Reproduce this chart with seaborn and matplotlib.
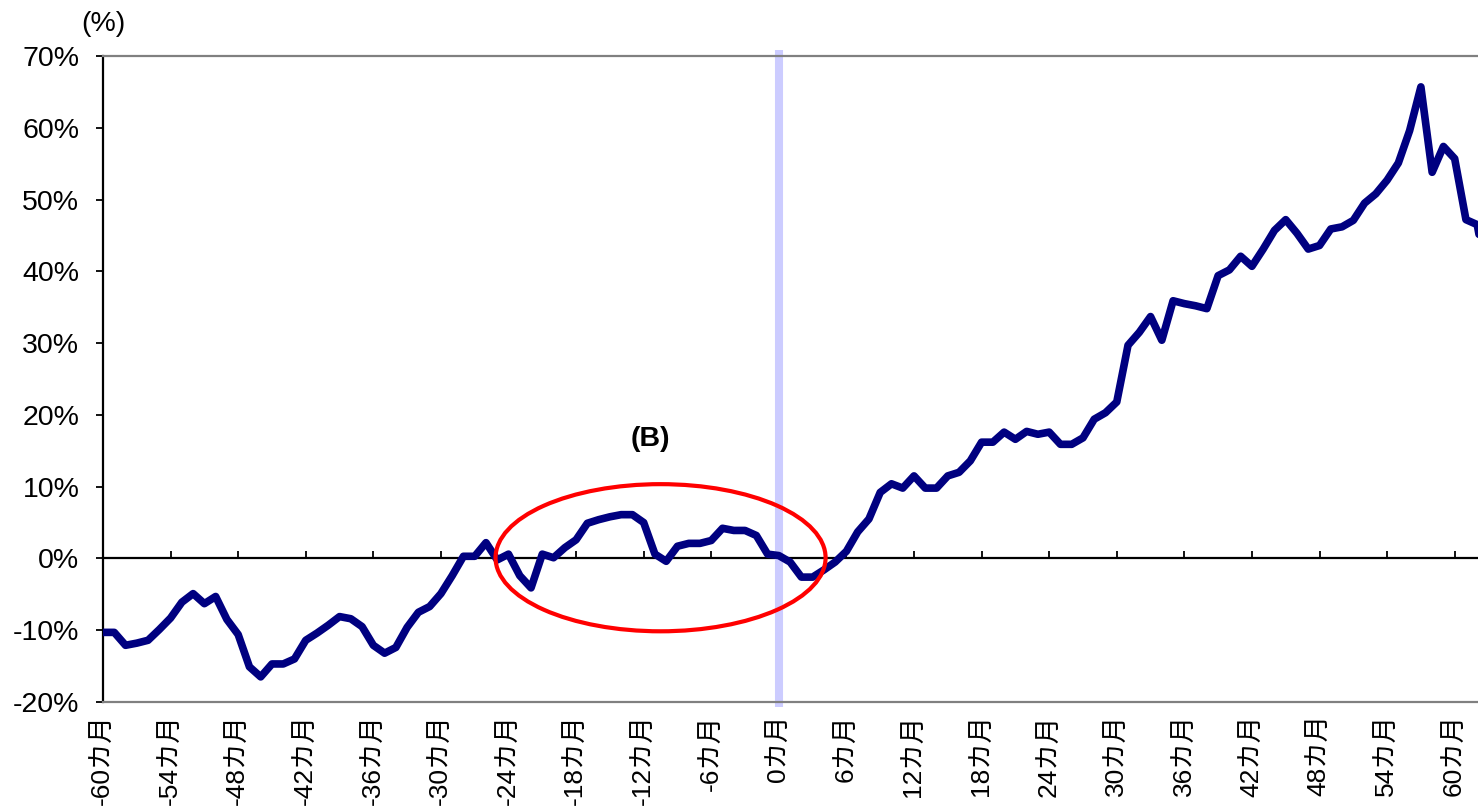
import numpy as np
import pandas as pd
import matplotlib
matplotlib.use("Agg")
import matplotlib.pyplot as plt
from matplotlib.patches import Ellipse
import seaborn as sns

# ── data ──────────────────────────────────────────────────────────────────────
months = list(range(-60, 64))
values = [
    -10.3, -10.3, -12.1, -11.8, -11.4, -9.9, -8.3, -6.1, -4.9, -6.3,      # -60..-51
    -5.3, -8.5, -10.6, -15.1, -16.5, -14.7, -14.7, -14.0, -11.4, -10.4,   # -50..-41
    -9.3, -8.1, -8.4, -9.5, -12.1, -13.2, -12.4, -9.6, -7.5, -6.7,        # -40..-31
    -4.9, -2.4, 0.3, 0.3, 2.2, -0.2, 0.6, -2.4, -4.1, 0.6,                # -30..-21
    0.1, 1.5, 2.6, 4.9, 5.4, 5.8, 6.1, 6.1, 5.0, 0.6,                     # -20..-11
    -0.4, 1.7, 2.1, 2.1, 2.5, 4.2, 3.9, 3.9, 3.2, 0.6,                    # -10..-1
    0.4, -0.5, -2.6, -2.6, -1.6, -0.5, 1.0, 3.7, 5.5, 9.2,                # 0..9
    10.4, 9.8, 11.5, 9.8, 9.8, 11.5, 12.0, 13.6, 16.2, 16.2,              # 10..19
    17.6, 16.6, 17.7, 17.3, 17.6, 15.9, 15.9, 16.8, 19.4, 20.3,           # 20..29
    21.8, 29.7, 31.5, 33.7, 30.4, 35.9, 35.5, 35.2, 34.8, 39.4,           # 30..39
    40.2, 42.1, 40.7, 43.1, 45.7, 47.2, 45.3, 43.1, 43.6, 45.9,           # 40..49
    46.2, 47.1, 49.5, 50.8, 52.7, 55.1, 59.6, 65.7, 53.8, 57.4,           # 50..59
    55.7, 47.2, 46.5, 38.0,                                               # 60..63
]
x_ticks = list(range(-60, 61, 6))
x_labels = [f"{m}カ月" for m in x_ticks]
y_ticks = list(range(-20, 71, 10))
y_labels = [f"{v}%" for v in y_ticks]

# highlighted region (B)
ELL_CENTER = (-10.5, 0.1)
ELL_WIDTH = 29.3
ELL_HEIGHT = 20.5
B_LABEL_POS = (-11.4, 16.6)

df = pd.DataFrame({"month": months, "value": values})

# ── style ─────────────────────────────────────────────────────────────────────
sns.set_theme(style="white")
plt.rcParams["font.family"] = ["Liberation Sans", "Noto Sans CJK JP", "DejaVu Sans"]
plt.rcParams["text.color"] = "black"
plt.rcParams["xtick.color"] = "black"
plt.rcParams["ytick.color"] = "black"
FS = 20.5
FS_X = 19

fig = plt.figure(figsize=(14.78, 8.10), dpi=100)
# axes runs past the right edge of the figure (chart is cropped there)
ax = fig.add_axes([103 / 1478, 108 / 810, 1408 / 1478, 646 / 810])
ax.set_xlim(-60, 65)
ax.set_ylim(-20, 70)

# month-0 marker
ax.axvline(0, color="#CCCCFF", linewidth=5.8, ymin=-0.007, ymax=1.009,
           clip_on=False, zorder=1, solid_capstyle="butt")

sns.lineplot(data=df, x="month", y="value", ax=ax, color="#000080",
             linewidth=5.5, zorder=4)

ax.add_patch(Ellipse(ELL_CENTER, ELL_WIDTH, ELL_HEIGHT, fill=False,
                     edgecolor="#FF0000", linewidth=3, zorder=5))
ax.text(*B_LABEL_POS, "(B)", fontsize=FS, fontweight="bold",
        ha="center", va="center", zorder=6)

# spines
for side in ["top", "bottom"]:
    ax.spines[side].set_color("#808080")
    ax.spines[side].set_linewidth(1.6)
ax.spines["left"].set_color("black")
ax.spines["left"].set_linewidth(1.6)
ax.spines["right"].set_visible(False)

ax.set_yticks(y_ticks)
ax.set_yticklabels(y_labels, fontsize=FS)
ax.tick_params(axis="y", direction="out", length=5, width=1.3, colors="black",
               left=True, pad=12)

ax.set_xticks(x_ticks)
ax.set_xticklabels(x_labels, fontsize=FS_X, rotation=90, va="top", ha="center")
ax.tick_params(axis="x", length=0, pad=9, colors="black")
ax.set_xlabel("")
ax.set_ylabel("")

# horizontal axis crossing at 0% with inward tick marks
loc0 = (0 - ax.get_ylim()[0]) / (ax.get_ylim()[1] - ax.get_ylim()[0])
sec = ax.secondary_xaxis(loc0)
sec.set_xticks(x_ticks)
sec.set_xticklabels([])
sec.tick_params(axis="x", direction="in", length=5, width=1.3, colors="black")
sec.spines["bottom"].set_color("black")
sec.spines["bottom"].set_linewidth(1.6)

fig.text(103 / 1478, 1 - 24 / 810, "(%)", fontsize=FS, ha="center", va="center")

fig.savefig("out.png", dpi=100)
